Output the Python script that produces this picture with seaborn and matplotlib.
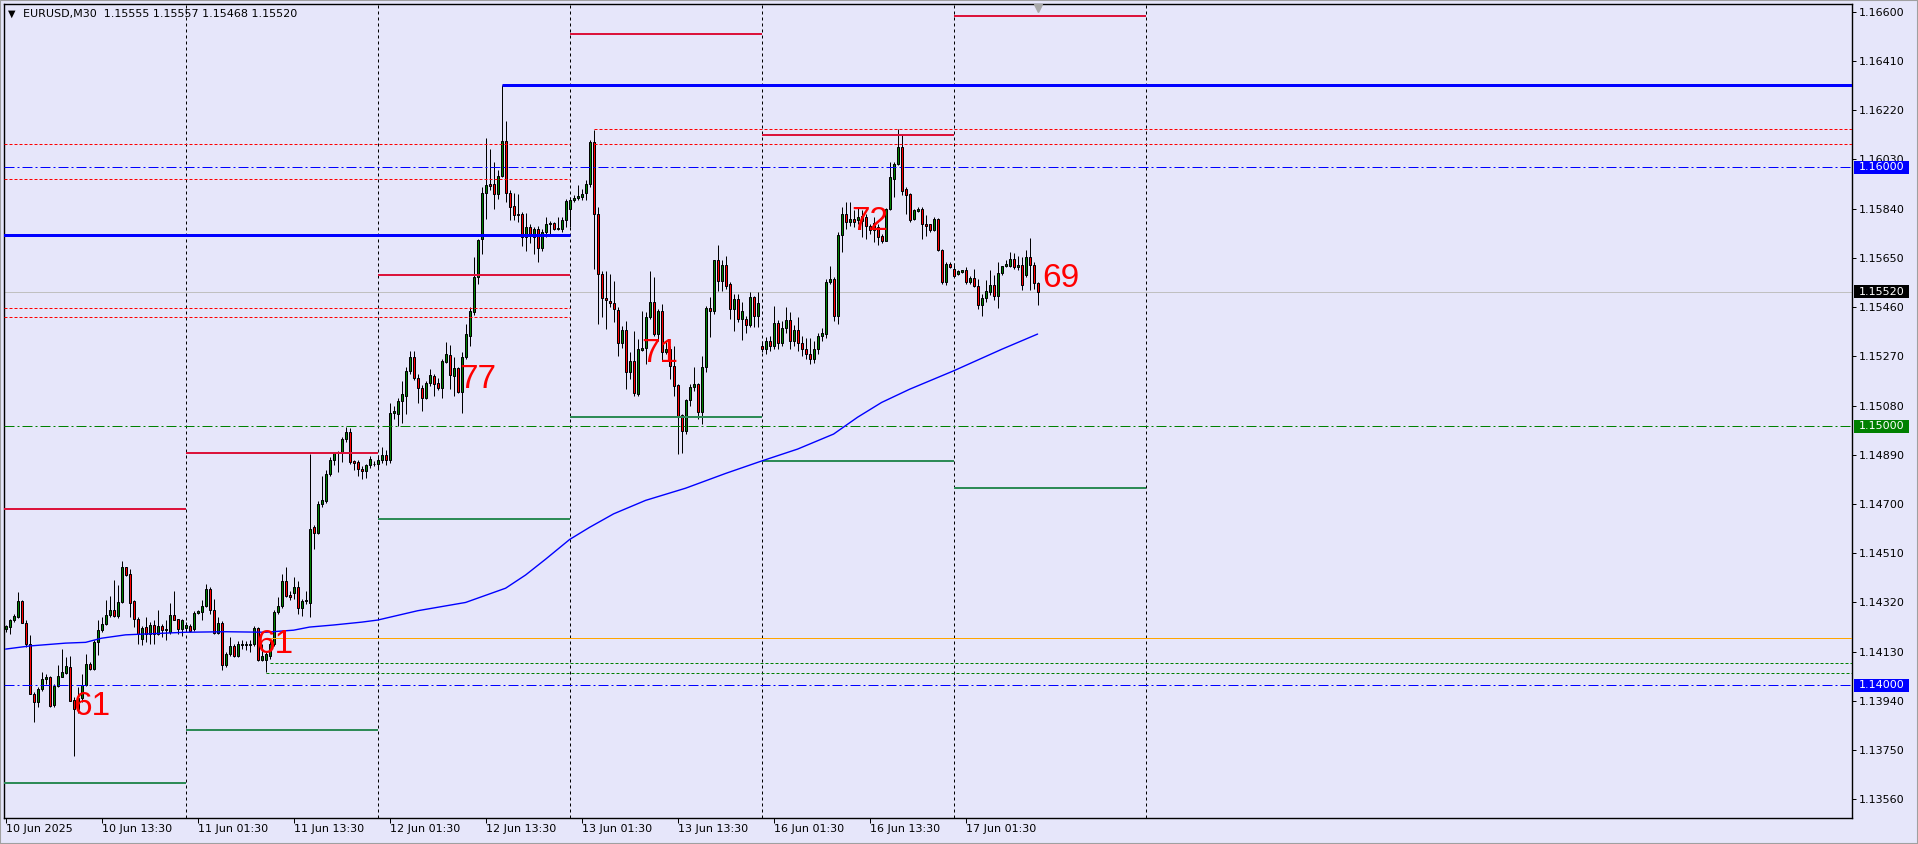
import numpy as np
import pandas as pd
import seaborn as sns
import matplotlib.pyplot as plt

# EURUSD M30 bars, 10 Jun 01:30 .. 17 Jun 10:00 (index = bar on chart)
opens = [
    1.14217, 1.14225, 1.14251, 1.14264, 1.14325, 1.14242, 1.14161, 1.13967, 1.13935, 1.13987,
    1.14024, 1.14032, 1.13926, 1.13999, 1.14034, 1.14047, 1.14070, 1.13944, 1.13909, 1.13950,
    1.14000, 1.14081, 1.14064, 1.14167, 1.14215, 1.14236, 1.14270, 1.14292, 1.14268, 1.14322,
    1.14455, 1.14429, 1.14325, 1.14258, 1.14180, 1.14225, 1.14199, 1.14232, 1.14199, 1.14228,
    1.14212, 1.14206, 1.14273, 1.14255, 1.14219, 1.14222, 1.14230, 1.14217, 1.14279, 1.14282,
    1.14305, 1.14372, 1.14291, 1.14204, 1.14242, 1.14079, 1.14121, 1.14152, 1.14114, 1.14154,
    1.14157, 1.14154, 1.14159, 1.14221, 1.14097, 1.14097, 1.14114, 1.14160, 1.14282, 1.14308,
    1.14404, 1.14350, 1.14355, 1.14381, 1.14298, 1.14324, 1.14317, 1.14611, 1.14587, 1.14701,
    1.14712, 1.14817, 1.14871, 1.14897, 1.14897, 1.14952, 1.14978, 1.14866, 1.14862, 1.14836,
    1.14827, 1.14849, 1.14855, 1.14853, 1.14870, 1.14890, 1.14870, 1.15053, 1.15046, 1.15098,
    1.15117, 1.15214, 1.15266, 1.15188, 1.15149, 1.15111, 1.15169, 1.15194, 1.15169, 1.15149,
    1.15250, 1.15276, 1.15194, 1.15224, 1.15134, 1.15266, 1.15349, 1.15440, 1.15575, 1.15722,
    1.15900, 1.15936, 1.15936, 1.15898, 1.15965, 1.16100, 1.15900, 1.15852, 1.15820, 1.15820,
    1.15730, 1.15769, 1.15730, 1.15762, 1.15689, 1.15749, 1.15781, 1.15785, 1.15762, 1.15762,
    1.15797, 1.15840, 1.15875, 1.15882, 1.15885, 1.15900, 1.15937, 1.16098, 1.15820, 1.15588,
    1.15495, 1.15485, 1.15477, 1.15449, 1.15320, 1.15371, 1.15208, 1.15253, 1.15124, 1.15294,
    1.15304, 1.15423, 1.15479, 1.15356, 1.15444, 1.15285, 1.15298, 1.15233, 1.15160, 1.15044,
    1.14982, 1.15101, 1.15152, 1.15163, 1.15057, 1.15227, 1.15457, 1.15444, 1.15640, 1.15562,
    1.15624, 1.15549, 1.15453, 1.15491, 1.15414, 1.15414, 1.15392, 1.15498, 1.15427, 1.15308,
    1.15300, 1.15330, 1.15310, 1.15400, 1.15320, 1.15380, 1.15410, 1.15330, 1.15370, 1.15320,
    1.15300, 1.15280, 1.15260, 1.15300, 1.15349, 1.15356, 1.15556, 1.15569, 1.15427, 1.15737,
    1.15818, 1.15788, 1.15801, 1.15795, 1.15792, 1.15808, 1.15775, 1.15756, 1.15769, 1.15736,
    1.15717, 1.15840, 1.15956, 1.16014, 1.16078, 1.15917, 1.15895, 1.15801, 1.15830, 1.15840,
    1.15782, 1.15779, 1.15756, 1.15801, 1.15681, 1.15556, 1.15627, 1.15609, 1.15586, 1.15596,
    1.15603, 1.15557, 1.15574, 1.15540, 1.15467, 1.15497, 1.15520, 1.15545, 1.15502, 1.15590,
    1.15618, 1.15618, 1.15644, 1.15615, 1.15622, 1.15583, 1.15652, 1.15622, 1.15555,
]
highs = [
    1.14232, 1.14257, 1.14277, 1.14361, 1.14331, 1.14251, 1.14193, 1.13974, 1.13993, 1.14051,
    1.14042, 1.14038, 1.14006, 1.14077, 1.14141, 1.14109, 1.14115, 1.13954, 1.13995, 1.14045,
    1.14122, 1.14090, 1.14174, 1.14251, 1.14264, 1.14328, 1.14344, 1.14406, 1.14387, 1.14479,
    1.14457, 1.14451, 1.14328, 1.14264, 1.14228, 1.14264, 1.14245, 1.14251, 1.14290, 1.14238,
    1.14251, 1.14316, 1.14365, 1.14257, 1.14257, 1.14245, 1.14237, 1.14288, 1.14291, 1.14330,
    1.14392, 1.14379, 1.14334, 1.14263, 1.14247, 1.14127, 1.14185, 1.14159, 1.14172, 1.14175,
    1.14172, 1.14175, 1.14230, 1.14226, 1.14159, 1.14127, 1.14170, 1.14290, 1.14340, 1.14430,
    1.14456, 1.14365, 1.14417, 1.14404, 1.14335, 1.14366, 1.14894, 1.14620, 1.14710, 1.14810,
    1.14830, 1.14881, 1.14901, 1.14905, 1.14959, 1.14998, 1.14995, 1.14870, 1.14870, 1.14845,
    1.14855, 1.14885, 1.14865, 1.14890, 1.14920, 1.14910, 1.15088, 1.15080, 1.15110, 1.15175,
    1.15227, 1.15291, 1.15291, 1.15201, 1.15160, 1.15175, 1.15220, 1.15201, 1.15188, 1.15259,
    1.15324, 1.15315, 1.15266, 1.15230, 1.15285, 1.15395, 1.15459, 1.15653, 1.15724, 1.15923,
    1.16111, 1.16072, 1.16020, 1.15988, 1.16317, 1.16179, 1.15911, 1.15900, 1.15898, 1.15827,
    1.15823, 1.15782, 1.15769, 1.15775, 1.15762, 1.15807, 1.15792, 1.15788, 1.15807, 1.15807,
    1.15878, 1.15885, 1.15891, 1.15930, 1.15917, 1.15949, 1.16104, 1.16145, 1.15846, 1.15601,
    1.15601, 1.15588, 1.15562, 1.15459, 1.15388, 1.15408, 1.15285, 1.15369, 1.15337, 1.15446,
    1.15440, 1.15601, 1.15575, 1.15453, 1.15472, 1.15324, 1.15311, 1.15311, 1.15163, 1.15046,
    1.15104, 1.15163, 1.15227, 1.15169, 1.15272, 1.15466, 1.15498, 1.15642, 1.15698, 1.15640,
    1.15659, 1.15556, 1.15511, 1.15511, 1.15479, 1.15427, 1.15517, 1.15504, 1.15517, 1.15330,
    1.15345, 1.15349, 1.15466, 1.15410, 1.15407, 1.15460, 1.15440, 1.15390, 1.15420, 1.15349,
    1.15340, 1.15340, 1.15330, 1.15360, 1.15380, 1.15570, 1.15620, 1.15575, 1.15750, 1.15846,
    1.15865, 1.15865, 1.15833, 1.15846, 1.15833, 1.15820, 1.15781, 1.15807, 1.15781, 1.15743,
    1.15843, 1.16020, 1.16020, 1.16149, 1.16123, 1.15923, 1.15900, 1.15840, 1.15846, 1.15846,
    1.15814, 1.15781, 1.15807, 1.15805, 1.15685, 1.15633, 1.15633, 1.15631, 1.15603, 1.15605,
    1.15615, 1.15579, 1.15609, 1.15570, 1.15512, 1.15566, 1.15605, 1.15583, 1.15635, 1.15618,
    1.15641, 1.15673, 1.15667, 1.15657, 1.15654, 1.15680, 1.15725, 1.15635, 1.15557,
]
lows = [
    1.14206, 1.14199, 1.14245, 1.14261, 1.14241, 1.14148, 1.13965, 1.13858, 1.13916, 1.13980,
    1.14006, 1.13918, 1.13918, 1.13993, 1.14032, 1.14045, 1.13939, 1.13729, 1.13895, 1.13935,
    1.13996, 1.14058, 1.14060, 1.14116, 1.14206, 1.14232, 1.14264, 1.14264, 1.14261, 1.14316,
    1.14421, 1.14264, 1.14225, 1.14161, 1.14154, 1.14167, 1.14158, 1.14161, 1.14193, 1.14187,
    1.14174, 1.14199, 1.14251, 1.14199, 1.14189, 1.14212, 1.14205, 1.14211, 1.14276, 1.14252,
    1.14301, 1.14276, 1.14200, 1.14198, 1.14059, 1.14072, 1.14114, 1.14110, 1.14108, 1.14140,
    1.14136, 1.14127, 1.14153, 1.14095, 1.14095, 1.14050, 1.14100, 1.14150, 1.14275, 1.14300,
    1.14340, 1.14330, 1.14333, 1.14275, 1.14269, 1.14314, 1.14262, 1.14527, 1.14585, 1.14690,
    1.14705, 1.14810, 1.14849, 1.14823, 1.14862, 1.14940, 1.14855, 1.14830, 1.14810, 1.14795,
    1.14800, 1.14840, 1.14845, 1.14840, 1.14860, 1.14850, 1.14860, 1.15030, 1.15000, 1.15014,
    1.15046, 1.15201, 1.15180, 1.15088, 1.15059, 1.15104, 1.15156, 1.15117, 1.15140, 1.15111,
    1.15245, 1.15143, 1.15117, 1.15130, 1.15053, 1.15260, 1.15311, 1.15430, 1.15549, 1.15665,
    1.15801, 1.15911, 1.15840, 1.15878, 1.15962, 1.15865, 1.15797, 1.15795, 1.15788, 1.15695,
    1.15676, 1.15707, 1.15665, 1.15633, 1.15678, 1.15730, 1.15740, 1.15758, 1.15756, 1.15749,
    1.15769, 1.15770, 1.15866, 1.15872, 1.15872, 1.15872, 1.15924, 1.15608, 1.15395, 1.15421,
    1.15375, 1.15459, 1.15401, 1.15272, 1.15304, 1.15143, 1.15182, 1.15117, 1.15117, 1.15289,
    1.15240, 1.15414, 1.15350, 1.15330, 1.15253, 1.15279, 1.15182, 1.15117, 1.14892, 1.14898,
    1.14969, 1.15079, 1.15137, 1.15027, 1.15008, 1.15208, 1.15343, 1.15433, 1.15524, 1.15521,
    1.15530, 1.15414, 1.15369, 1.15401, 1.15333, 1.15362, 1.15382, 1.15382, 1.15382, 1.15285,
    1.15280, 1.15290, 1.15300, 1.15300, 1.15310, 1.15360, 1.15300, 1.15310, 1.15290, 1.15270,
    1.15260, 1.15240, 1.15245, 1.15280, 1.15330, 1.15340, 1.15550, 1.15407, 1.15394, 1.15672,
    1.15762, 1.15775, 1.15769, 1.15781, 1.15730, 1.15723, 1.15743, 1.15710, 1.15698, 1.15707,
    1.15714, 1.15833, 1.15885, 1.16007, 1.15891, 1.15820, 1.15788, 1.15795, 1.15827, 1.15723,
    1.15736, 1.15749, 1.15753, 1.15678, 1.15549, 1.15547, 1.15611, 1.15577, 1.15583, 1.15592,
    1.15551, 1.15548, 1.15538, 1.15454, 1.15424, 1.15480, 1.15506, 1.15486, 1.15458, 1.15583,
    1.15613, 1.15615, 1.15609, 1.15603, 1.15525, 1.15577, 1.15525, 1.15528, 1.15468,
]
closes = [
    1.14228, 1.14251, 1.14267, 1.14325, 1.14242, 1.14161, 1.13967, 1.13935, 1.13987, 1.14025,
    1.14032, 1.13922, 1.13999, 1.14038, 1.14051, 1.14073, 1.13941, 1.13909, 1.13950, 1.14002,
    1.14083, 1.14063, 1.14167, 1.14215, 1.14236, 1.14270, 1.14292, 1.14267, 1.14322, 1.14455,
    1.14425, 1.14318, 1.14258, 1.14199, 1.14223, 1.14199, 1.14234, 1.14199, 1.14230, 1.14215,
    1.14219, 1.14273, 1.14254, 1.14219, 1.14251, 1.14234, 1.14211, 1.14279, 1.14286, 1.14308,
    1.14372, 1.14291, 1.14204, 1.14242, 1.14079, 1.14121, 1.14152, 1.14114, 1.14159, 1.14159,
    1.14159, 1.14159, 1.14221, 1.14097, 1.14114, 1.14121, 1.14160, 1.14282, 1.14308, 1.14404,
    1.14346, 1.14341, 1.14381, 1.14298, 1.14327, 1.14330, 1.14604, 1.14587, 1.14701, 1.14714,
    1.14817, 1.14871, 1.14897, 1.14901, 1.14952, 1.14978, 1.14862, 1.14858, 1.14836, 1.14827,
    1.14849, 1.14875, 1.14853, 1.14870, 1.14890, 1.14870, 1.15053, 1.15058, 1.15098, 1.15124,
    1.15214, 1.15266, 1.15186, 1.15149, 1.15111, 1.15169, 1.15198, 1.15165, 1.15149, 1.15253,
    1.15278, 1.15198, 1.15224, 1.15134, 1.15266, 1.15356, 1.15444, 1.15578, 1.15720, 1.15900,
    1.15932, 1.15926, 1.15898, 1.15965, 1.16100, 1.15900, 1.15846, 1.15814, 1.15814, 1.15730,
    1.15769, 1.15740, 1.15762, 1.15689, 1.15749, 1.15781, 1.15785, 1.15762, 1.15764, 1.15797,
    1.15868, 1.15875, 1.15882, 1.15887, 1.15898, 1.15937, 1.16098, 1.15820, 1.15588, 1.15495,
    1.15488, 1.15475, 1.15453, 1.15320, 1.15371, 1.15208, 1.15253, 1.15130, 1.15298, 1.15302,
    1.15423, 1.15479, 1.15356, 1.15444, 1.15285, 1.15298, 1.15233, 1.15156, 1.15040, 1.14982,
    1.15101, 1.15152, 1.15163, 1.15057, 1.15227, 1.15457, 1.15444, 1.15640, 1.15562, 1.15624,
    1.15543, 1.15453, 1.15491, 1.15414, 1.15444, 1.15392, 1.15498, 1.15427, 1.15475, 1.15300,
    1.15330, 1.15310, 1.15400, 1.15320, 1.15380, 1.15410, 1.15330, 1.15370, 1.15320, 1.15300,
    1.15280, 1.15260, 1.15300, 1.15349, 1.15362, 1.15556, 1.15569, 1.15427, 1.15740, 1.15818,
    1.15788, 1.15801, 1.15788, 1.15808, 1.15810, 1.15775, 1.15756, 1.15784, 1.15730, 1.15717,
    1.15840, 1.15962, 1.16014, 1.16078, 1.15910, 1.15891, 1.15797, 1.15833, 1.15840, 1.15779,
    1.15775, 1.15756, 1.15801, 1.15681, 1.15556, 1.15627, 1.15616, 1.15579, 1.15600, 1.15603,
    1.15557, 1.15574, 1.15540, 1.15467, 1.15497, 1.15522, 1.15545, 1.15502, 1.15592, 1.15618,
    1.15628, 1.15644, 1.15615, 1.15622, 1.15545, 1.15652, 1.15622, 1.15555, 1.15520,
]

# moving average read at a few bars
ma_bars = [0, 6, 15, 20, 24, 30, 45, 55, 65, 72, 76, 82, 89, 93, 103, 115, 125, 130, 135,
           141, 146, 152, 160, 170, 180, 189, 198, 207, 213, 219, 226, 237, 249, 258]
ma_vals = [1.14140, 1.14152, 1.14163, 1.14166, 1.14182, 1.14195, 1.14205, 1.14207, 1.14205,
           1.14213, 1.14225, 1.14233, 1.14244, 1.14252, 1.14288, 1.14320, 1.14375, 1.14426,
           1.14487, 1.14563, 1.14610, 1.14662, 1.14714, 1.14761, 1.14818, 1.14866, 1.14912,
           1.14970, 1.15035, 1.15092, 1.15143, 1.15214, 1.15297, 1.15356]

# day separators and previous-day high / low segments
day_starts = [45, 93, 141, 189, 237, 285]
seg_starts = [-3, 45, 93, 141, 189, 237]
day_highs = [1.14681, 1.14898, 1.15583, 1.16513, 1.16126, 1.16584]
day_lows = [1.13623, 1.13827, 1.14643, 1.15034, 1.14865, 1.14761]

# drawn levels
res_level, res_from = 1.16317, 124
sup_level, sup_to = 1.15738, 141
red_dots_left = [1.16088, 1.15953, 1.15457, 1.15422]
red_dots_left_to = 141
red_dots_right = [1.16149, 1.16091]
red_dots_right_from = 147
green_dots = [1.14087, 1.14048]
green_dots_from = [66, 65]
orange_level, orange_from = 1.14182, 65
blue_rounds = [1.16000, 1.14000]
green_round = 1.15000

# red numbers on the chart
lab_bars = [21.5, 67.4, 118, 163.6, 216, 263.9]
lab_prices = [1.13918, 1.14159, 1.15180, 1.15282, 1.15790, 1.15570]
lab_texts = ["61", "61", "77", "71", "72", "69"]

y_ticks = [1.16600, 1.16410, 1.16220, 1.16030, 1.15840, 1.15650, 1.15460, 1.15270, 1.15080,
           1.14890, 1.14700, 1.14510, 1.14320, 1.14130, 1.13940, 1.13750, 1.13560]
x_ticks = [0, 24, 48, 72, 96, 120, 144, 168, 192, 216, 240]
x_labels = ["10 Jun 2025", "10 Jun 13:30", "11 Jun 01:30", "11 Jun 13:30", "12 Jun 01:30",
            "12 Jun 13:30", "13 Jun 01:30", "13 Jun 13:30", "16 Jun 01:30", "16 Jun 13:30",
            "17 Jun 01:30"]

assert len(opens) == len(highs) == len(lows) == len(closes)

sns.set_theme(style="white")
plt.rcParams['font.family'] = ['DejaVu Sans']

bg = '#E6E6FA'
fig = plt.figure(figsize=(19.18, 8.44), dpi=100, facecolor=bg)
ax = fig.add_axes([4 / 1918, 26 / 844, 1848 / 1918, 814 / 844])
ax.set_facecolor(bg)

df = pd.DataFrame({'open': opens, 'high': highs, 'low': lows, 'close': closes})
df['bar'] = np.arange(len(df))
df['bottom'] = df[['open', 'close']].min(axis=1)
df['height'] = (df['close'] - df['open']).abs()
df['color'] = np.where(df['close'] >= df['open'], '#008000', '#FF0000')

px = 0.72  # one pixel in points

# separators
for d in day_starts:
    ax.axvline(d, color='black', lw=px, ls=(0, (3, 3)), zorder=1)

# candles
ax.vlines(df['bar'], df['low'], df['high'], color='black', lw=px, zorder=3)
ax.bar(df['bar'], df['height'], bottom=df['bottom'], width=0.5, color=df['color'],
       edgecolor='black', linewidth=px, zorder=3)

right = 470
dashdot = (0, (10, 3, 2, 3))
dotted = (0, (3, 2))

# previous-day high / low
ax.hlines(day_highs, seg_starts, day_starts, color='#DC143C', lw=2 * px, zorder=4)
ax.hlines(day_lows, seg_starts, day_starts, color='#2E8B57', lw=2 * px, zorder=4)

# round levels and current price
ax.axhline(closes[-1], color='#C0C0C0', lw=px, zorder=2)
for lv in blue_rounds:
    ax.axhline(lv, color='#0000FF', lw=px, ls=dashdot, zorder=4)
ax.axhline(green_round, color='#008000', lw=px, ls=dashdot, zorder=4)

# drawn support / resistance
ax.hlines(res_level, res_from, right, color='#0000FF', lw=3 * px, zorder=4)
ax.hlines(sup_level, -3, sup_to, color='#0000FF', lw=3 * px, zorder=4)
ax.hlines(red_dots_left, -3, red_dots_left_to, color='#FF0000', lw=px, ls=dotted, zorder=4)
ax.hlines(red_dots_right, red_dots_right_from, right, color='#FF0000', lw=px, ls=dotted, zorder=4)
ax.hlines(green_dots, green_dots_from, right, color='#008000', lw=px, ls=dotted, zorder=4)
ax.hlines(orange_level, orange_from, right, color='#FFA500', lw=px, zorder=4)

# moving average
sns.lineplot(x=ma_bars, y=ma_vals, ax=ax, color='#0000FF', lw=1.0, estimator=None,
             sort=False, zorder=5)

for b, p, t in zip(lab_bars, lab_prices, lab_texts):
    ax.text(b, p, t, color='#FF0000', fontsize=24, ha='center', va='center',
            family=['Liberation Sans', 'DejaVu Sans'], zorder=6)

ax.set_xlim(-0.4, 461.6)
ax.set_ylim(1.13488, 1.16630)

ax.yaxis.tick_right()
ax.set_yticks(y_ticks, labels=[f"{v:.5f}" for v in y_ticks])
ax.set_xticks(x_ticks, labels=x_labels)
for lab in ax.get_xticklabels():
    lab.set_ha('left')
ax.tick_params(axis='y', which='both', direction='out', length=3, width=px, pad=2,
               labelsize=8, colors='black', right=True, left=False)
ax.tick_params(axis='x', which='both', direction='out', length=3.6, width=px, pad=1,
               labelsize=8, colors='black', bottom=True)
ax.set_xlabel('')
ax.set_ylabel('')
for s in ax.spines.values():
    s.set_color('black')
    s.set_linewidth(px * 1.4)

# price boxes on the scale
tr = ax.get_yaxis_transform()
box_h = 0.00050
for lv, col in [(blue_rounds[0], '#0000FF'), (green_round, '#008000'),
                (blue_rounds[1], '#0000FF'), (closes[-1], 'black')]:
    ax.add_patch(plt.Rectangle((1.0011, lv - box_h / 2), 0.0297, box_h, transform=tr,
                               facecolor=col, edgecolor='none', clip_on=False, zorder=10))
    ax.text(1.0160, lv, f"{lv:.5f}", transform=tr, color='white', fontsize=8,
            ha='center', va='center', clip_on=False, zorder=11)

# shift marker at the top
ax.plot([len(closes) - 1], [0.995], transform=ax.get_xaxis_transform(), marker='v',
        color='#A8A8A8', ms=6, clip_on=False, zorder=7)

title = f"EURUSD,M30  {opens[-1]:.5f} {highs[-1]:.5f} {lows[-1]:.5f} {closes[-1]:.5f}"
fig.text(23 / 1918, 1 - 14 / 844, title, fontsize=8, va='center', ha='left', color='black')
fig.text(8 / 1918, 1 - 14 / 844, "▼", fontsize=7, va='center', ha='left', color='black')

fig.add_artist(plt.Rectangle((0, 0), 1, 1, transform=fig.transFigure, fill=False,
                             edgecolor='#A0A0A0', lw=1.5))

fig.savefig('out.png', dpi=100, facecolor=bg)
